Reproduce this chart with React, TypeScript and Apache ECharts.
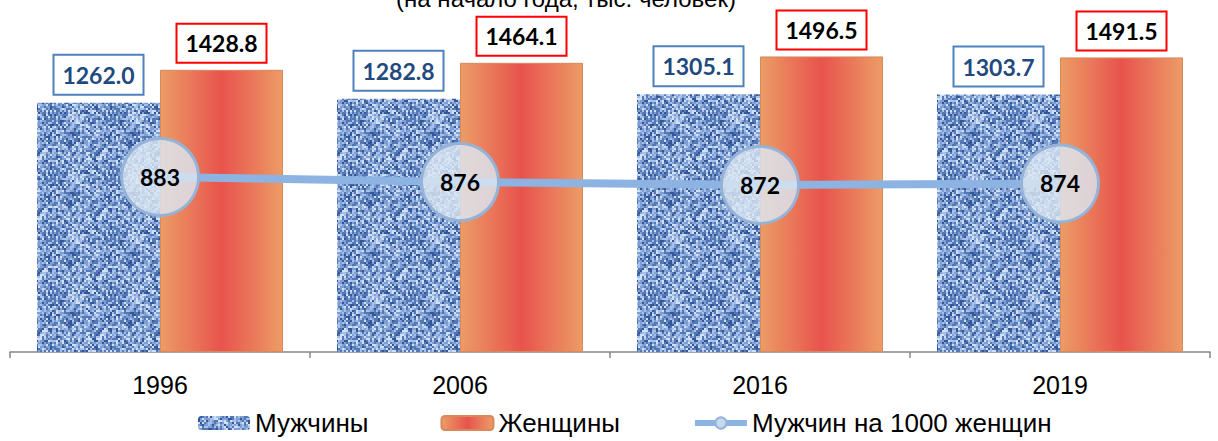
import React, { useEffect, useRef } from "react";
import * as echarts from "echarts";

const years = ["1996", "2006", "2016", "2019"];
const men = [1262.0, 1282.8, 1305.1, 1303.7];
const women = [1428.8, 1464.1, 1496.5, 1491.5];
const ratio = [883, 876, 872, 874];
const seriesNames = ["Мужчины", "Женщины", "Мужчин на 1000 женщин"];
const subtitle = "(на начало года, тыс. человек)";

function makeTexture(): HTMLCanvasElement {
  const c = document.createElement("canvas");
  c.width = 60;
  c.height = 60;
  const ctx = c.getContext("2d")!;
  ctx.fillStyle = "#6a8cc7";
  ctx.fillRect(0, 0, 60, 60);
  for (let i = 0; i < 60; i += 2) {
    for (let j = 0; j < 60; j += 2) {
      const s = Math.sin(i * 12.9898 + j * 78.233) * 43758.5453;
      const f = s - Math.floor(s);
      const weave = (Math.floor(i / 4) + Math.floor(j / 4)) % 2 === 0 ? 0.12 : 0;
      const g = f + weave;
      let col;
      if (g < 0.22) col = "#34579a";
      else if (g < 0.45) col = "#5478b6";
      else if (g < 0.7) col = "#7f9fd3";
      else if (g < 0.9) col = "#a6c0ea";
      else col = "#d2e0f6";
      ctx.fillStyle = col;
      ctx.fillRect(i, j, 2, 2);
    }
  }
  return c;
}

export default function App() {
  const ref = useRef<HTMLDivElement>(null);
  useEffect(() => {
    const chart = echarts.init(ref.current!, undefined, { renderer: "svg" });
    const tex = makeTexture();
    const labelFont = "Lato, 'Open Sans', sans-serif";
    chart.setOption({
      animation: false,
      backgroundColor: "#ffffff",
      graphic: [
        {
          type: "text",
          x: 566,
          y: 10,
          style: {
            text: subtitle,
            font: "24px 'Liberation Sans', Arial, sans-serif",
            fill: "#000",
            textAlign: "center",
            textVerticalAlign: "bottom",
          },
        },
      ],
      legend: {
        bottom: 0,
        left: 193,
        itemWidth: 52,
        itemHeight: 14,
        itemGap: 72,
        textStyle: {
          fontFamily: "'Liberation Sans', Arial, sans-serif",
          fontSize: 26,
          color: "#000",
        },
        data: [
          { name: seriesNames[0] },
          { name: seriesNames[1] },
          {
            name: seriesNames[2],
            lineStyle: { width: 6, color: "#8db3e2" },
            itemStyle: { color: "#c6d9f1", borderColor: "#95b3d7", borderWidth: 2 },
          },
        ],
      },
      grid: { left: 10, right: 8, top: 36, bottom: 89 },
      xAxis: {
        type: "category",
        data: years,
        axisLine: { lineStyle: { color: "#868686", width: 1.5 } },
        axisTick: { show: true, length: 6, lineStyle: { color: "#868686", width: 1.5 } },
        axisLabel: {
          fontFamily: "'Liberation Sans', Arial, sans-serif",
          fontSize: 25,
          color: "#000",
          margin: 20,
        },
      },
      yAxis: [
        { type: "value", min: 0, max: 1600, show: false, splitLine: { show: false } },
        { type: "value", min: 642, max: 1077, show: false, splitLine: { show: false } },
      ],
      series: [
        {
          name: seriesNames[0],
          type: "bar",
          data: men,
          barGap: "0%",
          barCategoryGap: "18%",
          itemStyle: {
            color: { image: tex, repeat: "repeat" },
          },
          label: {
            show: true,
            position: "top",
            distance: 9,
            formatter: (p: any) => p.value.toFixed(1),
            fontFamily: labelFont,
            fontWeight: "bold",
            fontSize: 23,
            color: "#1f4a80",
            backgroundColor: "#fff",
            borderColor: "#4f81bd",
            borderWidth: 2,
            width: 88,
            height: 38,
            lineHeight: 38,
            align: "center",
          },
        },
        {
          name: seriesNames[1],
          type: "bar",
          data: women,
          itemStyle: {
            color: {
              type: "linear",
              x: 0,
              y: 0,
              x2: 1,
              y2: 0,
              colorStops: [
                { offset: 0, color: "#ec9c66" },
                { offset: 0.5, color: "#e8534d" },
                { offset: 1, color: "#ec9c66" },
              ],
            },
            borderColor: "#d8885a",
            borderWidth: 1,
          },
          label: {
            show: true,
            position: "top",
            distance: 8,
            formatter: (p: any) => p.value.toFixed(1),
            fontFamily: labelFont,
            fontWeight: "bold",
            fontSize: 23,
            color: "#000",
            backgroundColor: "#fff",
            borderColor: "#ff0000",
            borderWidth: 2,
            width: 88,
            height: 37,
            lineHeight: 37,
            align: "center",
          },
        },
        {
          name: seriesNames[2],
          type: "line",
          yAxisIndex: 1,
          data: ratio,
          z: 5,
          symbol: "circle",
          symbolSize: 77,
          lineStyle: { color: "#8db3e2", width: 8 },
          itemStyle: {
            color: "rgba(220,230,243,0.82)",
            borderColor: "#95b3d7",
            borderWidth: 3,
          },
          label: {
            show: true,
            position: "inside",
            fontFamily: labelFont,
            fontWeight: "bold",
            fontSize: 23,
            color: "#000",
          },
        },
      ],
    });
    return () => chart.dispose();
  }, []);
  return (
    <div
      ref={ref}
      style={{ position: "fixed", left: 0, top: 0, width: 1218, height: 441 }}
    />
  );
}
